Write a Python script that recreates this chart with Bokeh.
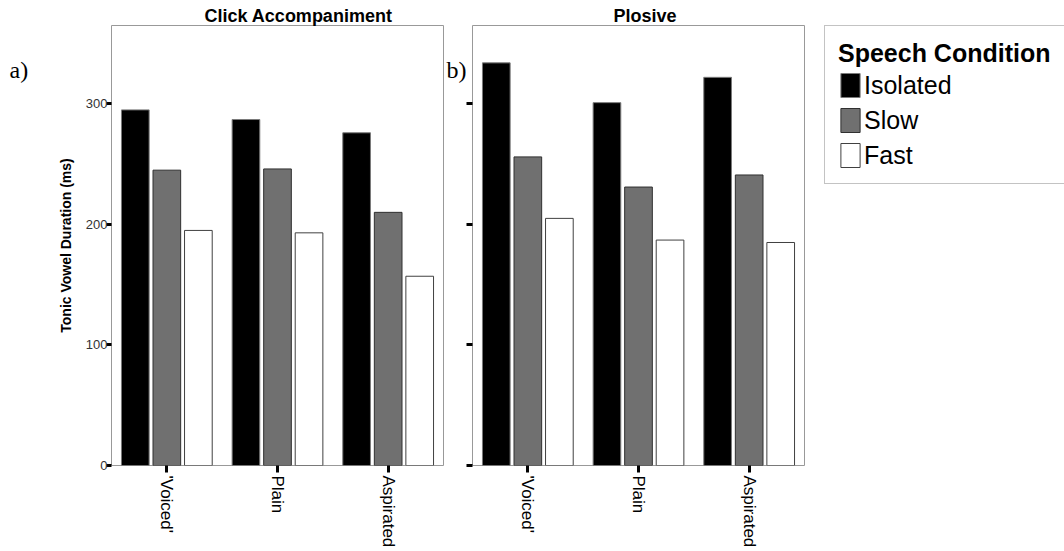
import math
from bokeh.plotting import figure
from bokeh.models import (FactorRange, Range1d, Label, Legend, LegendItem,
                          ColumnDataSource, FixedTicker)
from bokeh.transform import dodge
from bokeh.layouts import row
from bokeh.embed import file_html
from bokeh.resources import INLINE

# ---- data ----
categories = ["'Voiced'", "Plain", "Aspirated"]
conditions = ["Isolated", "Slow", "Fast"]
click_isolated = [295, 287, 276]
click_slow = [245, 246, 210]
click_fast = [195, 193, 157]
plosive_isolated = [334, 301, 322]
plosive_slow = [256, 231, 241]
plosive_fast = [205, 187, 185]
y_ticks = [0, 100, 200, 300]
panel_titles = ["Click Accompaniment", "Plosive"]
panel_tags = ["a)", "b)"]
legend_title = "Speech Condition"
y_label = "Tonic Vowel Duration (ms)"

# ---- styles ----
fills = ["#000000", "#707070", "#ffffff"]
lines = ["#7a7a7a", "#303030", "#404040"]
offsets = [-0.285, 0.0, 0.285]
SANS = "Liberation Sans"
SERIF = "Liberation Serif"
H = 551
TOP = 25
BOTTOM = 86
FRAME_H = H - TOP - BOTTOM


def add_bars(p, src):
    rs = []
    for cond, off, fc, lc in zip(conditions, offsets, fills, lines):
        rs.append(p.vbar(x=dodge("cat", off, range=p.x_range), top=cond, width=0.25,
                         source=src, fill_color=fc, line_color=lc, line_width=1))
    return rs


def make_panel(iso, slow, fast, title, width, bl, br, show_labels, title_offset):
    p = figure(width=width, height=H, title=title,
               x_range=FactorRange(factors=categories, range_padding=0),
               y_range=Range1d(0, 365),
               output_backend="svg", toolbar_location=None,
               min_border_left=bl, min_border_right=br,
               min_border_top=TOP, min_border_bottom=BOTTOM)
    src = ColumnDataSource(dict(cat=categories, Isolated=iso, Slow=slow, Fast=fast))
    add_bars(p, src)
    p.xgrid.visible = False
    p.ygrid.visible = False
    p.outline_line_color = "#999999"
    p.outline_line_width = 1
    p.background_fill_color = "white"
    p.border_fill_color = "white"

    p.title.text_font = SANS
    p.title.text_font_size = "18px"
    p.title.text_font_style = "bold"
    p.title.text_color = "black"
    p.title.align = "left"
    p.title.offset = title_offset
    p.title.standoff = 0

    xa = p.xaxis[0]
    xa.axis_line_color = None
    xa.major_tick_line_color = "black"
    xa.major_tick_line_width = 3
    xa.major_tick_in = 0
    xa.major_tick_out = 7
    xa.major_label_orientation = -math.pi / 2
    xa.major_label_standoff = 3
    xa.major_label_text_font = SANS
    xa.major_label_text_font_size = "17px"
    xa.major_label_text_color = "black"
    xa.minor_tick_line_color = None

    ya = p.yaxis[0]
    ya.ticker = FixedTicker(ticks=y_ticks)
    ya.axis_line_color = None
    ya.major_tick_line_color = "black"
    ya.major_tick_line_width = 3
    ya.major_tick_in = 0
    ya.minor_tick_line_color = None
    ya.major_label_text_font = SANS
    ya.major_label_text_font_size = "13px"
    ya.major_label_text_color = "#333333"
    if show_labels:
        ya.major_tick_out = 5
        ya.major_label_standoff = -1
        ya.axis_label = y_label
        ya.axis_label_text_font = SANS
        ya.axis_label_text_font_size = "14px"
        ya.axis_label_text_font_style = "bold"
        ya.axis_label_text_color = "black"
        ya.axis_label_standoff = 9
    else:
        ya.major_tick_out = 6
        ya.major_label_standoff = 0
        ya.major_label_overrides = {t: "" for t in y_ticks}
    return p


def make_tag(tag, width, x):
    # the row aligns this strip's frame with the panels' frames (FRAME_H px tall)
    t = figure(width=width, height=H, x_range=Range1d(0, width),
               y_range=Range1d(0, FRAME_H),
               output_backend="svg", toolbar_location=None,
               x_axis_type=None, y_axis_type=None,
               min_border_left=0, min_border_right=0,
               min_border_top=TOP, min_border_bottom=BOTTOM)
    t.xgrid.visible = False
    t.ygrid.visible = False
    t.outline_line_color = None
    t.add_layout(Label(x=x, y=FRAME_H - (69 - TOP), text=tag, text_font=SERIF,
                       text_font_size="24px", text_color="black",
                       text_baseline="middle", text_align="left"))
    return t


tag_a = make_tag(panel_tags[0], 40, 9)
pa = make_panel(click_isolated, click_slow, click_fast, panel_titles[0],
                405, 71, 2, True, 93)
tag_b = make_tag(panel_tags[1], 21, 1)
pb = make_panel(plosive_isolated, plosive_slow, plosive_fast, panel_titles[1],
                350, 6, 12, False, 141)

# ---- legend panel (bars kept out of view; only the legend shows) ----
pl = figure(width=248, height=H,
            x_range=FactorRange(factors=categories, range_padding=0),
            y_range=Range1d(-2, -1),
            output_backend="svg", toolbar_location=None,
            x_axis_type=None, y_axis_type=None,
            min_border_left=8, min_border_right=0,
            min_border_top=TOP, min_border_bottom=BOTTOM)
pl.xgrid.visible = False
pl.ygrid.visible = False
pl.outline_line_color = None
lsrc = ColumnDataSource(dict(cat=categories, Isolated=plosive_isolated,
                             Slow=plosive_slow, Fast=plosive_fast))
lrs = add_bars(pl, lsrc)
items = [LegendItem(label=c, renderers=[r]) for c, r in zip(conditions, lrs)]
legend = Legend(items=items, location="top_left", margin=0, padding=13,
                spacing=5, glyph_width=24, glyph_height=30, label_height=30,
                label_standoff=2, title=legend_title, title_standoff=2,
                title_text_font=SANS, title_text_font_size="25px",
                title_text_font_style="bold", title_text_color="black",
                label_text_font=SANS, label_text_font_size="25px",
                label_text_color="black", border_line_color="#888888",
                border_line_width=1, background_fill_color="white",
                background_fill_alpha=1)
pl.add_layout(legend)

layout = row(tag_a, pa, tag_b, pb, pl)
open("out.html", "w").write(file_html(layout, INLINE))
